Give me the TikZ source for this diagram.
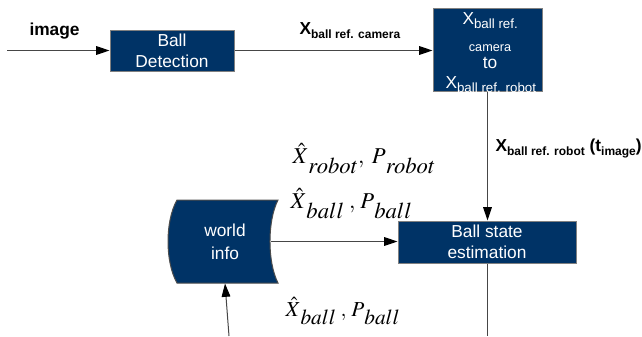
\documentclass[tikz,border=0pt]{standalone}
\usepackage{mathptmx}
\usepackage[no-math]{fontspec}
\setmainfont{Liberation Sans}
\usetikzlibrary{arrows.meta}
\definecolor{navy}{RGB}{0,51,102}
\definecolor{wire}{RGB}{70,70,70}
\tikzset{
	block/.style={draw=gray,fill=navy,text=white,align=center,inner sep=0pt,font=\fontsize{13}{15.5}\selectfont},
	arr/.style={draw=wire,-{Triangle[length=10pt,width=6.5pt,color=black]}},
	lbl/.style={anchor=base west,inner sep=0pt,font=\bfseries\fontsize{13}{15}\selectfont},
	mlbl/.style={anchor=base west,inner sep=0pt,font=\fontsize{17}{20}\selectfont},
	wtxt/.style={text=white,inner sep=0pt}
}
\begin{document}
\begin{tikzpicture}[x=0.75pt,y=-0.75pt,line width=0.75pt]
	\useasboundingbox (0,0) rectangle (642,336);
	\node[block,minimum width=93pt,minimum height=30.75pt] (detect) at (172,50.5) {Ball\\Detection};
	\node[block,minimum width=81.75pt,minimum height=62.25pt] (conv) at (487.5,49.5) {};
	\begin{scope}
		\clip (conv.south west) rectangle (conv.north east);
		\node[wtxt,anchor=base west,font=\fontsize{13}{15}\selectfont] (cx1) at (462,24) {X\raisebox{-3pt}{\fontsize{10}{11}\selectfont ball ref.}};
		\node[wtxt,anchor=base,font=\fontsize{9.5}{10}\selectfont] (ccam) at (490,51) {camera};
		\node[wtxt,anchor=base,font=\fontsize{13}{15}\selectfont] (cto) at (490,68) {to};
		\node[wtxt,anchor=base west,font=\fontsize{13}{15}\selectfont] (cx2) at (445,88) {X\raisebox{-3pt}{\fontsize{10}{11}\selectfont ball ref. robot}};
	\end{scope}
	\node[block,minimum width=133.5pt,minimum height=31.5pt] (estim) at (487,242) {Ball state\\estimation};
	\draw[gray!60!black,fill=navy] (177,200) -- (278,200) .. controls (267.3,221) and (267.3,262) .. (278,283)
		-- (177,283) .. controls (165,262) and (165,221) .. (177,200) -- cycle;
	\node[wtxt,align=center,font=\fontsize{13}{17}\selectfont,minimum width=67.5pt,minimum height=62.25pt] (world) at (225,241.5) {world\\info};
	\node[lbl] (imglbl) at (29,35) {image};
	\node[lbl] (camlbl) at (299,34) {X\raisebox{-3pt}{\fontsize{9}{10}\selectfont ball ref. camera}};
	\node[lbl] (roblbl) at (495,151) {X\raisebox{-3pt}{\fontsize{9}{10}\selectfont ball ref. robot} (t\raisebox{-3pt}{\fontsize{9}{10}\selectfont image})};
	\node[mlbl] (rlbl) at (292,163) {$\hat{X}\lower7.5pt\hbox{$robot$},\;P\lower7.5pt\hbox{$robot$}$};
	\node[mlbl] (blbl) at (290,208) {$\hat{X}\lower8pt\hbox{$ball$}\;,\,P\lower8pt\hbox{$ball$}$};
	\node[mlbl,font=\fontsize{16}{19}\selectfont] (flbl) at (285,316) {$\hat{X}\lower6.5pt\hbox{$ball$}\;,\,P\lower6.5pt\hbox{$ball$}$};
	\coordinate (src) at (7,50.5);
	\coordinate (feed) at (229,336);
	\coordinate (out) at (487,336);
	\draw[arr] (src) -- (detect.west);
	\draw[arr] (detect.east) -- (detect.east -| conv.west);
	\draw[arr] (conv.south) -- (conv.south |- estim.north);
	\draw[arr] (world.east) -- (world.east -| estim.west);
	\draw[arr] (feed) -- (world.south);
	\draw[wire] (estim.south) -- (out);
\end{tikzpicture}
\end{document}
